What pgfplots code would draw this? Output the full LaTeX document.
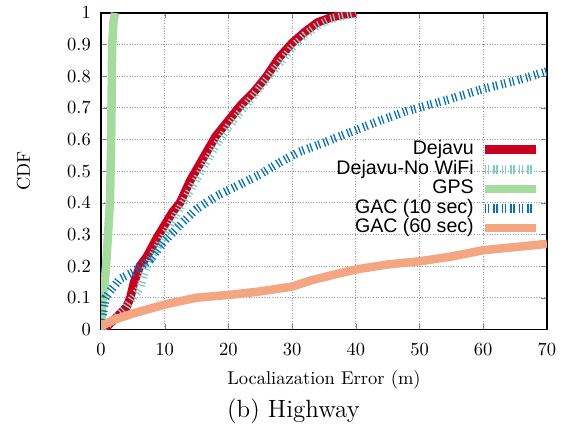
\documentclass[border=0pt]{standalone}
\usepackage{pgfplots}
\pgfplotsset{compat=1.18}
\usepackage{fontspec}
\newfontfamily\legfont{Liberation Sans}
\definecolor{cRed}{HTML}{CA0020}
\definecolor{cTeal}{HTML}{80CDC1}
\definecolor{cGreen}{HTML}{A6DBA0}
\definecolor{cBlue}{HTML}{0571B0}
\definecolor{cSalmon}{HTML}{F4A582}
\tikzset{gdash/.style={dash pattern=on 0.7pt off 1.0pt on 0.7pt off 2.2pt}}
\begin{document}
\begin{tikzpicture}
\begin{axis}[
  scale only axis,
  width=241pt, height=171pt,
  xmin=0, xmax=70, ymin=0, ymax=1,
  xtick={0,10,...,70},
  ytick={0,0.1,...,1.0},
  yticklabel style={/pgf/number format/fixed,/pgf/number format/precision=1, xshift=-2pt},
  xticklabel style={yshift=-4pt},
  tick align=inside,
  major tick length=3pt,
  axis line style={line width=0.8pt},
  grid=major,
  major grid style={densely dotted, gray!80, line width=0.5pt},
  xlabel={Localiazation Error (m)},
  ylabel={CDF},
  xlabel style={yshift=-1.5pt},
  ylabel style={yshift=13pt},
  legend style={draw=none, fill=none, at={(0.985,0.6)}, anchor=north east,
    font=\legfont\fontsize{10.6}{12}\selectfont, inner sep=0pt, column sep=3pt,
    nodes={inner sep=0.6pt, text height=7.3pt, text depth=2.1pt}},
  legend cell align=right,
  legend plot pos=right,
  legend image code/.code={\draw[#1] (0pt,0pt) -- (27.5pt,0pt);},
  every axis plot/.append style={line width=4.6pt, line join=round},
]
\addplot[cRed] coordinates {(0,0) (1,0.01) (2,0.03) (3,0.05) (4,0.07) (4.6,0.1) (5.2,0.15) (5.6,0.17) (6.1,0.2) (7.2,0.23) (8,0.26) (8.8,0.29) (10,0.33) (11.2,0.37) (12.4,0.4) (14,0.47) (16,0.54) (18,0.61) (20,0.66) (22,0.71) (24,0.75) (26,0.8) (28,0.86) (30,0.905) (32,0.94) (34,0.97) (36,0.985) (38,0.995) (40,1.0)};
\addlegendentry{Dejavu}
\addplot[cTeal, gdash] coordinates {(0,0) (2,0.03) (4,0.07) (5,0.1) (6.1,0.13) (7,0.19) (8,0.23) (10,0.3) (12,0.37) (14,0.44) (16,0.51) (18,0.58) (20,0.64) (22,0.69) (24,0.74) (26,0.79) (28,0.84) (30,0.89) (32,0.93) (34,0.96) (36,0.98) (38,0.99) (40,1.0)};
\addlegendentry{Dejavu-No WiFi}
\addplot[cGreen] coordinates {(0,0) (0.2,0.08) (0.5,0.13) (0.8,0.2) (1.1,0.3) (1.4,0.4) (1.5,0.5) (1.6,0.6) (1.65,0.7) (1.7,0.8) (1.75,0.9) (1.95,0.97) (2.2,1.0)};
\addlegendentry{GPS}
\addplot[cBlue, gdash] coordinates {(0,0.02) (0.3,0.05) (0.7,0.1) (1.4,0.12) (3,0.16) (5,0.18) (7.7,0.22) (10,0.28) (12.9,0.34) (15,0.38) (18,0.42) (21,0.45) (25,0.49) (28,0.527) (31,0.56) (35,0.59) (40,0.63) (43.8,0.66) (48,0.69) (54.3,0.725) (60,0.76) (65,0.785) (70,0.815)};
\addlegendentry{GAC (10 sec)}
\addplot[cSalmon] coordinates {(0,0.01) (2,0.03) (5,0.05) (10.3,0.08) (15,0.1) (20.7,0.11) (25,0.12) (30,0.135) (33,0.155) (37,0.175) (40.2,0.19) (45,0.205) (50,0.215) (55,0.23) (60,0.25) (65,0.26) (70,0.27)};
\addlegendentry{GAC (60 sec)}
\end{axis}
\node[font=\fontsize{13.5}{15}\selectfont] at (104pt,-44.5pt) {(b) Highway};
\path[use as bounding box] (-54.6pt,-53.5pt) rectangle (252.4pt,178pt);
\end{tikzpicture}
\end{document}
